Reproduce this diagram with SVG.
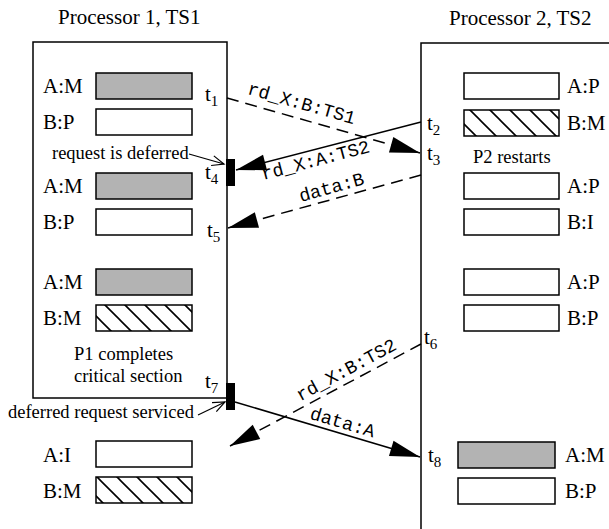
<svg xmlns="http://www.w3.org/2000/svg" width="609" height="529" viewBox="0 0 609 529">
<defs>
<pattern id="hatch" patternUnits="userSpaceOnUse" width="20" height="20">
<rect width="20" height="20" fill="#fff"/>
<path d="M-5,-5 L25,25 M15,-5 L25,5 M-5,15 L5,25" stroke="#000" stroke-width="1.6"/>
</pattern>
<marker id="ah" markerUnits="userSpaceOnUse" markerWidth="34" markerHeight="20" viewBox="-32 -10 34 20" refX="0" refY="0" orient="auto">
<path d="M0,0 L-30,-8 L-30,8 z" fill="#000" stroke="none"/>
</marker>
<marker id="oa" markerUnits="userSpaceOnUse" markerWidth="16" markerHeight="14" viewBox="-14 -7 16 14" refX="0" refY="0" orient="auto">
<path d="M-12,-5 L0,0 L-12,5" fill="none" stroke="#000" stroke-width="1.2"/>
</marker>
</defs>
<rect width="609" height="529" fill="#fff"/>

<g id="processor1">
<g stroke="#000" stroke-width="1.5">
<rect x="33" y="42" width="194" height="356" fill="none"/>
<rect x="96" y="73" width="96" height="26" fill="#b3b3b3"/>
<rect x="96" y="109" width="96" height="26" fill="#fff"/>
<rect x="96" y="173" width="96" height="26" fill="#b3b3b3"/>
<rect x="96" y="209" width="96" height="26" fill="#fff"/>
<rect x="96" y="269" width="96" height="26" fill="#b3b3b3"/>
<rect x="96" y="305" width="96" height="26" fill="url(#hatch)"/>
</g>
<rect x="226" y="159" width="9" height="27" fill="#000"/>
<rect x="226" y="383" width="9" height="27" fill="#000"/>
<text x="58" y="24" font-family="Times New Roman" font-size="21">Processor 1, TS1</text>
<text x="43" y="93" font-family="Times New Roman" font-size="21">A:M</text>
<text x="43" y="129" font-family="Times New Roman" font-size="21">B:P</text>
<text x="43" y="193" font-family="Times New Roman" font-size="21">A:M</text>
<text x="43" y="229" font-family="Times New Roman" font-size="21">B:P</text>
<text x="43" y="289" font-family="Times New Roman" font-size="21">A:M</text>
<text x="43" y="325" font-family="Times New Roman" font-size="21">B:M</text>
<text x="74" y="360" font-family="Times New Roman" font-size="18.5">P1 completes</text>
<text x="74" y="382" font-family="Times New Roman" font-size="18.5">critical section</text>
<text x="205" y="101" font-family="Times New Roman" font-size="21">t<tspan font-size="15" dy="5">1</tspan></text>
<text x="205" y="179" font-family="Times New Roman" font-size="21">t<tspan font-size="15" dy="5">4</tspan></text>
<text x="207" y="237" font-family="Times New Roman" font-size="21">t<tspan font-size="15" dy="5">5</tspan></text>
<text x="205" y="388" font-family="Times New Roman" font-size="21">t<tspan font-size="15" dy="5">7</tspan></text>
</g>

<g id="processor1-after">
<g stroke="#000" stroke-width="1.5">
<rect x="96" y="441" width="96" height="26" fill="#fff"/>
<rect x="96" y="477" width="96" height="26" fill="url(#hatch)"/>
</g>
<text x="43" y="462" font-family="Times New Roman" font-size="21">A:I</text>
<text x="43" y="498" font-family="Times New Roman" font-size="21">B:M</text>
</g>

<g id="processor2">
<g stroke="#000" stroke-width="1.5">
<path d="M610,43 L421,43 L421,530" fill="none"/>
<rect x="464" y="73" width="95" height="26" fill="#fff"/>
<rect x="464" y="110" width="95" height="26" fill="url(#hatch)"/>
<rect x="464" y="173" width="95" height="26" fill="#fff"/>
<rect x="464" y="209" width="95" height="26" fill="#fff"/>
<rect x="464" y="269" width="95" height="26" fill="#fff"/>
<rect x="464" y="305" width="95" height="26" fill="#fff"/>
<rect x="458" y="442" width="97" height="26" fill="#b3b3b3"/>
<rect x="458" y="478" width="97" height="26" fill="#fff"/>
</g>
<text x="449" y="25" font-family="Times New Roman" font-size="21">Processor 2, TS2</text>
<text x="567" y="93" font-family="Times New Roman" font-size="21">A:P</text>
<text x="567" y="130" font-family="Times New Roman" font-size="21">B:M</text>
<text x="473" y="163" font-family="Times New Roman" font-size="18.5">P2 restarts</text>
<text x="567" y="193" font-family="Times New Roman" font-size="21">A:P</text>
<text x="567" y="229" font-family="Times New Roman" font-size="21">B:I</text>
<text x="567" y="289" font-family="Times New Roman" font-size="21">A:P</text>
<text x="567" y="325" font-family="Times New Roman" font-size="21">B:P</text>
<text x="565" y="462" font-family="Times New Roman" font-size="21">A:M</text>
<text x="565" y="498" font-family="Times New Roman" font-size="21">B:P</text>
<text x="427" y="130" font-family="Times New Roman" font-size="21">t<tspan font-size="15" dy="5">2</tspan></text>
<text x="427" y="160" font-family="Times New Roman" font-size="21">t<tspan font-size="15" dy="5">3</tspan></text>
<text x="424" y="344" font-family="Times New Roman" font-size="21">t<tspan font-size="15" dy="5">6</tspan></text>
<text x="428" y="462" font-family="Times New Roman" font-size="21">t<tspan font-size="15" dy="5">8</tspan></text>
</g>

<g id="connectors">
<g fill="none" stroke="#000" stroke-width="1.5">
<line x1="227" y1="98" x2="420" y2="153" stroke-dasharray="12 7" marker-end="url(#ah)"/>
<line x1="421" y1="122" x2="236" y2="170" marker-end="url(#ah)"/>
<line x1="421" y1="175" x2="228" y2="228" stroke-dasharray="12 7" marker-end="url(#ah)"/>
<line x1="421" y1="344" x2="230" y2="446" stroke-dasharray="12 7" marker-end="url(#ah)"/>
<line x1="235" y1="402" x2="420" y2="457" marker-end="url(#ah)"/>
<line x1="189" y1="154" x2="224" y2="164" stroke-width="1.2" marker-end="url(#oa)"/>
<line x1="198" y1="415" x2="225" y2="402" stroke-width="1.2" marker-end="url(#oa)"/>
</g>
<text x="300" y="109" text-anchor="middle" transform="rotate(15.9 300 109)" font-family="Courier New" font-size="18.5">rd_X:B:TS1</text>
<text x="317" y="166" text-anchor="middle" transform="rotate(-14.7 317 166)" font-family="Courier New" font-size="18.5">rd_X:A:TS2</text>
<text x="333" y="193" text-anchor="middle" transform="rotate(-15.6 333 193)" font-family="Courier New" font-size="18.5">data:B</text>
<text x="349" y="375" text-anchor="middle" transform="rotate(-28.4 349 375)" font-family="Courier New" font-size="18.5">rd_X:B:TS2</text>
<text x="341" y="428" text-anchor="middle" transform="rotate(16.6 341 428)" font-family="Courier New" font-size="18.5">data:A</text>
</g>

<g id="annotations">
<text x="52" y="159" font-family="Times New Roman" font-size="18.5">request is deferred</text>
<text x="8" y="418" font-family="Times New Roman" font-size="18.5">deferred request serviced</text>
</g>
</svg>
